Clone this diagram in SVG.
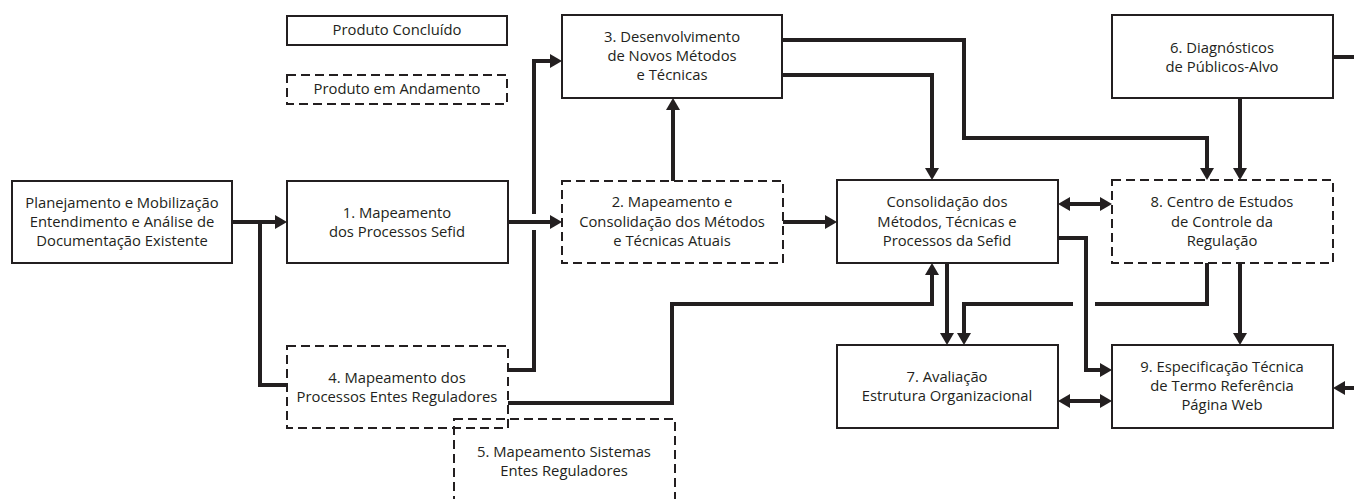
<svg xmlns="http://www.w3.org/2000/svg" width="1354" height="499" viewBox="0 0 1354 499">
<style>
.box{fill:#fff;stroke:#231f20;stroke-width:2}
.dash{fill:none;stroke:#231f20;stroke-width:2;stroke-dasharray:9 5}
.t{font-family:"Open Sans","Noto Sans","Liberation Sans",sans-serif;font-size:14.8px;fill:#231f20;text-anchor:middle}
.c{fill:none;stroke:#231f20;stroke-width:4;stroke-linejoin:miter;stroke-linecap:butt}
.a{marker-end:url(#ah)}
.d{marker-start:url(#ah);marker-end:url(#ah)}
</style>
<defs>
<marker id="ah" viewBox="0 0 12 14" refX="8" refY="7" markerWidth="12" markerHeight="14" markerUnits="userSpaceOnUse" orient="auto-start-reverse">
<path d="M0,0 L12,7 L0,14 z" fill="#231f20"/>
</marker>
</defs>
<rect width="1354" height="499" fill="#fff"/>

<g id="connectors">
<path class="c a" d="M232,222 H283"/>
<path class="c" d="M260,222 V385 H287"/>
<path class="c a" d="M508,222 H558"/>
<path class="c" d="M508,370 H534 V230"/>
<path class="c a" d="M534,214 V61 H558"/>
<path class="c a" d="M673,181 V102"/>
<path class="c a" d="M783,222 H833"/>
<path class="c a" d="M782,40 H964 V138 H1207 V176"/>
<path class="c a" d="M782,75 H932 V176"/>
<path class="c a" d="M1240,98 V176"/>
<path class="c" d="M1333,57 H1360"/>
<path class="c a" d="M1360,388 H1337"/>
<path class="c d" d="M1062,204 H1108"/>
<path class="c a" d="M1058,238 H1086 V370 H1108"/>
<path class="c d" d="M1062,401 H1108"/>
<path class="c a" d="M947,263 V341"/>
<path class="c" d="M1207,263 V304 H1095"/>
<path class="c a" d="M1073,304 H964 V341"/>
<path class="c a" d="M1240,263 V341"/>
<path class="c a" d="M508,403 H672 V304 H932 V267"/>
</g>

<g id="legend-concluido">
<rect class="box" x="287" y="16" width="220" height="29"/>
<text class="t" x="397" y="35">Produto Concluído</text>
</g>
<g id="legend-andamento">
<rect class="dash" x="287" y="75" width="220" height="29"/>
<text class="t" x="397" y="94">Produto em Andamento</text>
</g>

<g id="node-planejamento">
<rect class="box" x="12" y="181" width="220" height="82"/>
<text class="t" x="122" y="208">Planejamento e Mobilização</text>
<text class="t" x="122" y="227">Entendimento e Análise de</text>
<text class="t" x="122" y="246">Documentação Existente</text>
</g>

<g id="node-1">
<rect class="box" x="287" y="181" width="221" height="82"/>
<text class="t" x="397" y="218">1. Mapeamento</text>
<text class="t" x="397" y="237">dos Processos Sefid</text>
</g>

<g id="node-2">
<rect class="dash" x="562" y="181" width="221" height="82"/>
<text class="t" x="672" y="207">2. Mapeamento e</text>
<text class="t" x="672" y="227">Consolidação dos Métodos</text>
<text class="t" x="672" y="246">e Técnicas Atuais</text>
</g>

<g id="node-3">
<rect class="box" x="562" y="15" width="220" height="83"/>
<text class="t" x="672" y="42">3. Desenvolvimento</text>
<text class="t" x="672" y="61">de Novos Métodos</text>
<text class="t" x="672" y="80">e Técnicas</text>
</g>

<g id="node-consolidacao">
<rect class="box" x="837" y="180" width="221" height="83"/>
<text class="t" x="947" y="207">Consolidação dos</text>
<text class="t" x="947" y="227">Métodos, Técnicas e</text>
<text class="t" x="947" y="246">Processos da Sefid</text>
</g>

<g id="node-6">
<rect class="box" x="1112" y="15" width="221" height="83"/>
<text class="t" x="1222" y="53">6. Diagnósticos</text>
<text class="t" x="1222" y="72">de Públicos-Alvo</text>
</g>

<g id="node-8">
<rect class="dash" x="1112" y="180" width="221" height="83"/>
<text class="t" x="1222" y="207">8. Centro de Estudos</text>
<text class="t" x="1222" y="227">de Controle da</text>
<text class="t" x="1222" y="246">Regulação</text>
</g>

<g id="node-4">
<rect class="dash" x="287" y="346" width="221" height="82"/>
<text class="t" x="397" y="383">4. Mapeamento dos</text>
<text class="t" x="397" y="402">Processos Entes Reguladores</text>
</g>

<g id="node-5">
<rect class="dash" x="454" y="419" width="221" height="95"/>
<text class="t" x="564" y="457">5. Mapeamento Sistemas</text>
<text class="t" x="564" y="476">Entes Reguladores</text>
</g>

<g id="node-7">
<rect class="box" x="837" y="345" width="221" height="83"/>
<text class="t" x="947" y="382">7. Avaliação</text>
<text class="t" x="947" y="401">Estrutura Organizacional</text>
</g>

<g id="node-9">
<rect class="box" x="1112" y="345" width="221" height="83"/>
<text class="t" x="1222" y="372">9. Especificação Técnica</text>
<text class="t" x="1222" y="391">de Termo Referência</text>
<text class="t" x="1222" y="410">Página Web</text>
</g>
</svg>
